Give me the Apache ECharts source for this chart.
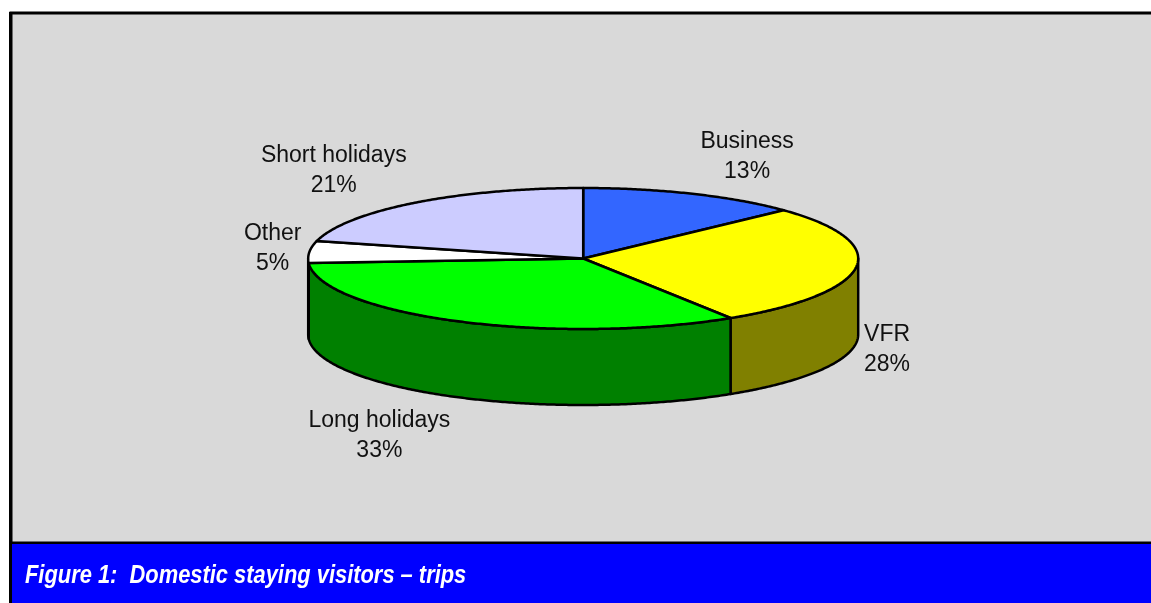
<!DOCTYPE html>
<html><head><meta charset="utf-8">
<script src="https://cdn.jsdelivr.net/npm/echarts@6/dist/echarts.min.js"></script>
<style>html,body{margin:0;padding:0;background:#fff}#c{width:1151px;height:603px}</style>
</head><body><div id="c"></div>
<script>
const categories = ['Business', 'VFR', 'Long holidays', 'Other', 'Short holidays'];
const shares = [13, 28, 33, 5, 21];
const topColors = ['#3366ff', '#ffff00', '#00ff00', '#ffffff', '#ccccff'];
const sideColors = ['#1a33b3', '#808000', '#008000', '#808080', '#6666b3'];
const titleText = 'Figure 1:  Domestic staying visitors \u2013 trips';

const CX = 583.2, CY = 258.5, RX = 275, RY = 70.5, DEPTH = 76;
const LABEL_FONT = '23px "Liberation Sans", Arial, sans-serif';
const total = shares.reduce((a, b) => a + b, 0);
const starts = [];
let acc = 0;
shares.forEach(v => { starts.push(acc); acc += v; });

const measureCtx = document.createElement('canvas').getContext('2d');
measureCtx.font = LABEL_FONT;

function pt(t, dy) { return [CX + RX * Math.sin(t), CY - RY * Math.cos(t) + (dy || 0)]; }
function arc(a, b, dy) {
  const n = Math.max(2, Math.ceil(Math.abs(b - a) / (Math.PI / 360)));
  const out = [];
  for (let k = 0; k <= n; k++) out.push(pt(a + (b - a) * k / n, dy));
  return out;
}

function renderItem(params, api) {
  const i = params.dataIndex;
  const v = api.value(1);
  const t0 = 2 * Math.PI * starts[i] / total;
  const t1 = 2 * Math.PI * (starts[i] + v) / total;
  const children = [];
  const a = Math.max(t0, Math.PI / 2), b = Math.min(t1, 3 * Math.PI / 2);
  if (b > a) {
    const pts = arc(a, b, 0).concat(arc(b, a, DEPTH));
    children.push({
      type: 'polygon', z2: 1,
      shape: { points: pts },
      style: { fill: sideColors[i], stroke: '#000', lineWidth: 2.5, lineJoin: 'round' }
    });
  }
  const top = [[CX, CY]].concat(arc(t0, t1, 0));
  children.push({
    type: 'polygon', z2: 5,
    shape: { points: top },
    style: { fill: topColors[i], stroke: '#000', lineWidth: 2.5, lineJoin: 'round' }
  });
  const tm = (t0 + t1) / 2;
  const s = Math.sin(tm), c = Math.cos(tm);
  const anchor = pt(tm, c < 0 ? DEPTH : 0);
  const name = categories[i];
  const pctText = Math.round(v / total * 100) + '%';
  const w = Math.max(measureCtx.measureText(name).width, measureCtx.measureText(pctText).width);
  const h = 60;
  const gx = 8, gy = 12;
  const lx = anchor[0] + Math.sign(s) * (gx + w / 2);
  const ly = anchor[1] - c * (h / 2 + gy) + 1;
  children.push({
    type: 'text', z2: 10,
    style: {
      text: name + '\n' + pctText,
      x: lx, y: ly, align: 'center', verticalAlign: 'middle',
      font: LABEL_FONT, lineHeight: 30, fill: '#111'
    }
  });
  return { type: 'group', children };
}

const chart = echarts.init(document.getElementById('c'), null, { renderer: 'canvas' });
chart.setOption({
  animation: false,
  graphic: [
    { type: 'rect', z: 0, shape: { x: 11, y: 13, width: 1150, height: 530 },
      style: { fill: '#d9d9d9', stroke: '#000', lineWidth: 3 } },
    { type: 'rect', z: 0, shape: { x: 11, y: 544, width: 1150, height: 70 },
      style: { fill: '#0000ff' } },
    { type: 'line', z: 1, shape: { x1: 10.5, y1: 12, x2: 10.5, y2: 603 },
      style: { stroke: '#000', lineWidth: 3 } },
    { type: 'text', z: 5, x: 25, y: 576, scaleX: 0.875,
      style: { text: titleText, x: 0, y: 0, align: 'left', verticalAlign: 'middle',
        fill: '#fff', font: 'italic bold 25px "Liberation Sans", Arial, sans-serif' } }
  ],
  series: [{
    type: 'custom',
    coordinateSystem: 'none',
    silent: true,
    renderItem,
    data: shares.map((v, i) => ({ name: categories[i], value: [i, v] }))
  }]
});
</script>
</body></html>
